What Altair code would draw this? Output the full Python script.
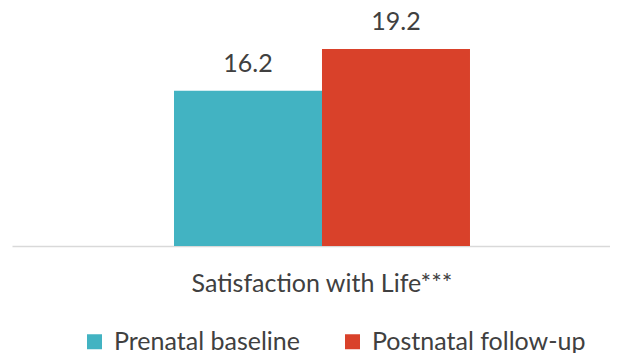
import altair as alt
import pandas as pd

categories = ["Satisfaction with Life***", "Satisfaction with Life***"]
series = ["Prenatal baseline", "Postnatal follow-up"]
values = [16.2, 19.2]
labels = ["16.2", "19.2"]
colors = ["#42B3C2", "#D9412A"]

df = pd.DataFrame({"category": categories, "series": series, "value": values, "label": labels})

FONT = "Lato"
TXT = "#404040"
FS = 25

x = alt.X("category:N", title=None,
          scale=alt.Scale(paddingInner=0, paddingOuter=0.51014, align=0.5364),
          axis=alt.Axis(labelAngle=0, ticks=False, labelPadding=25, labelFontSize=FS,
                        labelColor=TXT, labelFont=FONT, domainColor="#D9D9D9",
                        domainWidth=1.5, grid=False, labelLimit=0))
xo = alt.XOffset("series:N", sort=series, scale=alt.Scale(paddingInner=0, paddingOuter=0))
y = alt.Y("value:Q", scale=alt.Scale(domain=[5, 20], zero=False, nice=False), axis=None)

bars = alt.Chart(df).mark_bar().encode(
    x=x, xOffset=xo, y=y, y2=alt.datum(5),
    color=alt.Color("series:N", sort=series,
                    scale=alt.Scale(domain=series, range=colors),
                    legend=alt.Legend(title=None, orient="none", direction="horizontal",
                                      legendX=70, legendY=291, padding=0,
                                      symbolType="square", symbolSize=225,
                                      symbolStrokeWidth=0, symbolOpacity=1,
                                      labelFontSize=FS, labelFont=FONT, labelColor=TXT,
                                      labelOffset=7, columnPadding=40, labelLimit=0)),
)

text = alt.Chart(df).mark_text(baseline="alphabetic", dy=-19, fontSize=FS, font=FONT,
                               color=TXT).encode(
    x=x, xOffset=xo, y=y, text="label:N"
)

chart = (bars + text).properties(
    width=598, height=208, background="white",
    padding={"left": 4, "top": 30, "right": 0, "bottom": 107},
    autosize=alt.AutoSizeParams(type="none"),
).configure_view(strokeWidth=0, stroke="transparent")

chart.save("out.html", embed_options={"renderer": "svg", "actions": False})
